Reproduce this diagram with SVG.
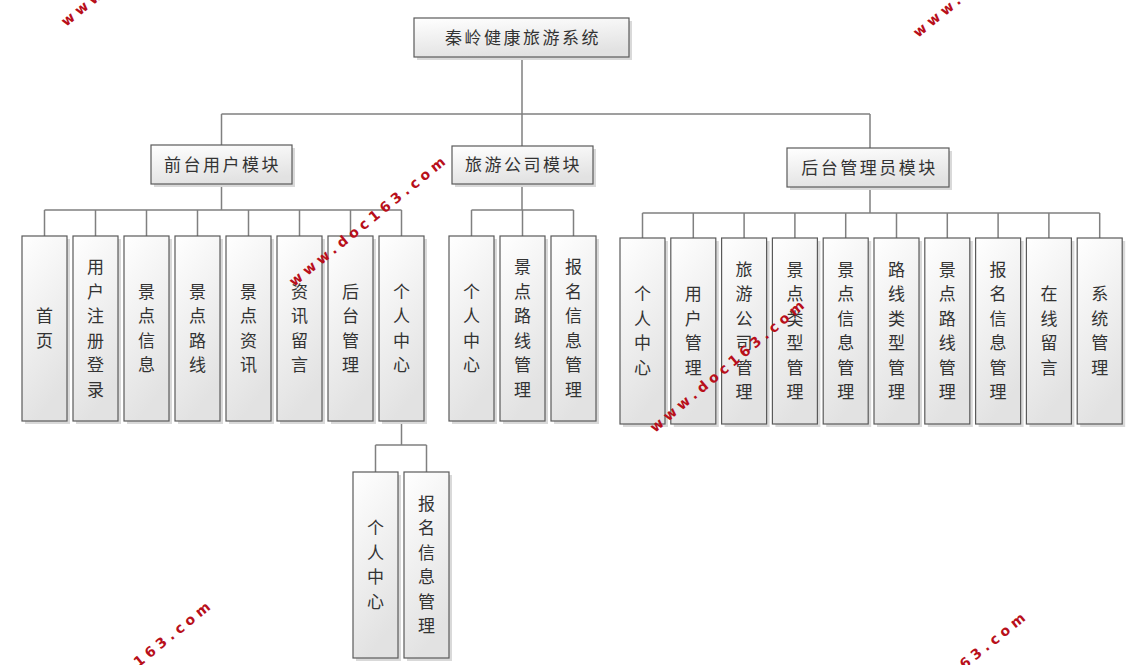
<svg xmlns="http://www.w3.org/2000/svg" width="1126" height="665" viewBox="0 0 1126 665">
<defs>
<linearGradient id="g" x1="0" y1="0" x2="0.3" y2="1">
<stop offset="0" stop-color="#ffffff"/>
<stop offset="1" stop-color="#e2e2e2"/>
</linearGradient>
<style>
.box{fill:url(#g);stroke:#5a5a5a;stroke-width:1.2}
.sh{fill:#d9d9d9}
.t{font-family:"Noto Sans CJK SC","Liberation Sans",sans-serif;font-size:17px;fill:#333;text-anchor:middle}
.h{letter-spacing:2.5px}
.c{fill:none;stroke:#808080;stroke-width:1.5}
.wm{font-family:"DejaVu Sans",sans-serif;font-weight:bold;font-size:14px;fill:#b80f1a}
</style>
</defs>
<rect width="1126" height="665" fill="#fff"/>
<g id="connectors" class="c">
<path d="M522 57V114M221.5 114H870M221.5 114V145M522 114V146M870 114V148"/>
<path d="M221.5 184V210M44.5 210H401.5M44.5 210V236M95.5 210V236M146.5 210V236M197.5 210V236M248.5 210V236M299.5 210V236M350.5 210V236M401.5 210V236"/>
<path d="M522 184V210M471.5 210H573.5M471.5 210V236M522.5 210V236M573.5 210V236"/>
<path d="M870 187V213M642.5 213H1099.7M642.5 213V238M693.3 213V238M744.1 213V238M794.9 213V238M845.7 213V238M896.5 213V238M947.3 213V238M998.1 213V238M1048.9 213V238M1099.7 213V238"/>
<path d="M401.5 421V445M375.5 445H426.5M375.5 445V472M426.5 445V472"/>
</g>
<g id="root"><rect class="sh" x="417" y="21" width="215" height="39"/><rect class="box" x="414" y="18" width="215" height="39"/><text class="t h" x="523" y="44">秦岭健康旅游系统</text></g>
<g id="m1"><rect class="sh" x="154" y="148" width="141" height="39"/><rect class="box" x="151" y="145" width="141" height="39"/><text class="t h" x="222.5" y="171">前台用户模块</text></g>
<g id="m2"><rect class="sh" x="455" y="149" width="141" height="38"/><rect class="box" x="452" y="146" width="141" height="38"/><text class="t h" x="523.5" y="171">旅游公司模块</text></g>
<g id="m3"><rect class="sh" x="790" y="151" width="162" height="39"/><rect class="box" x="787" y="148" width="162" height="39"/><text class="t h" x="869.5" y="174">后台管理员模块</text></g>

<g id="a1"><rect class="sh" x="25" y="239" width="45" height="185"/><rect class="box" x="22" y="236" width="45" height="185"/><text class="t"><tspan x="44.5" y="322">首</tspan><tspan x="44.5" y="347">页</tspan></text></g>
<g id="a2"><rect class="sh" x="76" y="239" width="45" height="185"/><rect class="box" x="73" y="236" width="45" height="185"/><text class="t"><tspan x="95.5" y="273">用</tspan><tspan x="95.5" y="298">户</tspan><tspan x="95.5" y="322">注</tspan><tspan x="95.5" y="347">册</tspan><tspan x="95.5" y="371">登</tspan><tspan x="95.5" y="396">录</tspan></text></g>
<g id="a3"><rect class="sh" x="127" y="239" width="45" height="185"/><rect class="box" x="124" y="236" width="45" height="185"/><text class="t"><tspan x="146.5" y="298">景</tspan><tspan x="146.5" y="322">点</tspan><tspan x="146.5" y="347">信</tspan><tspan x="146.5" y="371">息</tspan></text></g>
<g id="a4"><rect class="sh" x="178" y="239" width="45" height="185"/><rect class="box" x="175" y="236" width="45" height="185"/><text class="t"><tspan x="197.5" y="298">景</tspan><tspan x="197.5" y="322">点</tspan><tspan x="197.5" y="347">路</tspan><tspan x="197.5" y="371">线</tspan></text></g>
<g id="a5"><rect class="sh" x="229" y="239" width="45" height="185"/><rect class="box" x="226" y="236" width="45" height="185"/><text class="t"><tspan x="248.5" y="298">景</tspan><tspan x="248.5" y="322">点</tspan><tspan x="248.5" y="347">资</tspan><tspan x="248.5" y="371">讯</tspan></text></g>
<g id="a6"><rect class="sh" x="280" y="239" width="45" height="185"/><rect class="box" x="277" y="236" width="45" height="185"/><text class="t"><tspan x="299.5" y="298">资</tspan><tspan x="299.5" y="322">讯</tspan><tspan x="299.5" y="347">留</tspan><tspan x="299.5" y="371">言</tspan></text></g>
<g id="a7"><rect class="sh" x="331" y="239" width="45" height="185"/><rect class="box" x="328" y="236" width="45" height="185"/><text class="t"><tspan x="350.5" y="298">后</tspan><tspan x="350.5" y="322">台</tspan><tspan x="350.5" y="347">管</tspan><tspan x="350.5" y="371">理</tspan></text></g>
<g id="a8"><rect class="sh" x="382" y="239" width="45" height="185"/><rect class="box" x="379" y="236" width="45" height="185"/><text class="t"><tspan x="401.5" y="298">个</tspan><tspan x="401.5" y="322">人</tspan><tspan x="401.5" y="347">中</tspan><tspan x="401.5" y="371">心</tspan></text></g>

<g id="s1"><rect class="sh" x="356" y="475" width="45" height="186"/><rect class="box" x="353" y="472" width="45" height="186"/><text class="t"><tspan x="375.5" y="534">个</tspan><tspan x="375.5" y="559">人</tspan><tspan x="375.5" y="583">中</tspan><tspan x="375.5" y="608">心</tspan></text></g>
<g id="s2"><rect class="sh" x="407" y="475" width="45" height="186"/><rect class="box" x="404" y="472" width="45" height="186"/><text class="t"><tspan x="426.5" y="510">报</tspan><tspan x="426.5" y="534">名</tspan><tspan x="426.5" y="559">信</tspan><tspan x="426.5" y="583">息</tspan><tspan x="426.5" y="608">管</tspan><tspan x="426.5" y="632">理</tspan></text></g>

<g id="b1"><rect class="sh" x="452" y="239" width="45" height="185"/><rect class="box" x="449" y="236" width="45" height="185"/><text class="t"><tspan x="471.5" y="298">个</tspan><tspan x="471.5" y="322">人</tspan><tspan x="471.5" y="347">中</tspan><tspan x="471.5" y="371">心</tspan></text></g>
<g id="b2"><rect class="sh" x="503" y="239" width="45" height="185"/><rect class="box" x="500" y="236" width="45" height="185"/><text class="t"><tspan x="522.5" y="273">景</tspan><tspan x="522.5" y="298">点</tspan><tspan x="522.5" y="322">路</tspan><tspan x="522.5" y="347">线</tspan><tspan x="522.5" y="371">管</tspan><tspan x="522.5" y="396">理</tspan></text></g>
<g id="b3"><rect class="sh" x="554" y="239" width="45" height="185"/><rect class="box" x="551" y="236" width="45" height="185"/><text class="t"><tspan x="573.5" y="273">报</tspan><tspan x="573.5" y="298">名</tspan><tspan x="573.5" y="322">信</tspan><tspan x="573.5" y="347">息</tspan><tspan x="573.5" y="371">管</tspan><tspan x="573.5" y="396">理</tspan></text></g>

<g id="c1"><rect class="sh" x="623" y="241" width="45" height="186"/><rect class="box" x="620" y="238" width="45" height="186"/><text class="t"><tspan x="642.5" y="300">个</tspan><tspan x="642.5" y="325">人</tspan><tspan x="642.5" y="349">中</tspan><tspan x="642.5" y="374">心</tspan></text></g>
<g id="c2"><rect class="sh" x="673.8" y="241" width="45" height="186"/><rect class="box" x="670.8" y="238" width="45" height="186"/><text class="t"><tspan x="693.3" y="300">用</tspan><tspan x="693.3" y="325">户</tspan><tspan x="693.3" y="349">管</tspan><tspan x="693.3" y="374">理</tspan></text></g>
<g id="c3"><rect class="sh" x="724.6" y="241" width="45" height="186"/><rect class="box" x="721.6" y="238" width="45" height="186"/><text class="t"><tspan x="744.1" y="276">旅</tspan><tspan x="744.1" y="300">游</tspan><tspan x="744.1" y="325">公</tspan><tspan x="744.1" y="349">司</tspan><tspan x="744.1" y="374">管</tspan><tspan x="744.1" y="398">理</tspan></text></g>
<g id="c4"><rect class="sh" x="775.4" y="241" width="45" height="186"/><rect class="box" x="772.4" y="238" width="45" height="186"/><text class="t"><tspan x="794.9" y="276">景</tspan><tspan x="794.9" y="300">点</tspan><tspan x="794.9" y="325">类</tspan><tspan x="794.9" y="349">型</tspan><tspan x="794.9" y="374">管</tspan><tspan x="794.9" y="398">理</tspan></text></g>
<g id="c5"><rect class="sh" x="826.2" y="241" width="45" height="186"/><rect class="box" x="823.2" y="238" width="45" height="186"/><text class="t"><tspan x="845.7" y="276">景</tspan><tspan x="845.7" y="300">点</tspan><tspan x="845.7" y="325">信</tspan><tspan x="845.7" y="349">息</tspan><tspan x="845.7" y="374">管</tspan><tspan x="845.7" y="398">理</tspan></text></g>
<g id="c6"><rect class="sh" x="877" y="241" width="45" height="186"/><rect class="box" x="874" y="238" width="45" height="186"/><text class="t"><tspan x="896.5" y="276">路</tspan><tspan x="896.5" y="300">线</tspan><tspan x="896.5" y="325">类</tspan><tspan x="896.5" y="349">型</tspan><tspan x="896.5" y="374">管</tspan><tspan x="896.5" y="398">理</tspan></text></g>
<g id="c7"><rect class="sh" x="927.8" y="241" width="45" height="186"/><rect class="box" x="924.8" y="238" width="45" height="186"/><text class="t"><tspan x="947.3" y="276">景</tspan><tspan x="947.3" y="300">点</tspan><tspan x="947.3" y="325">路</tspan><tspan x="947.3" y="349">线</tspan><tspan x="947.3" y="374">管</tspan><tspan x="947.3" y="398">理</tspan></text></g>
<g id="c8"><rect class="sh" x="978.6" y="241" width="45" height="186"/><rect class="box" x="975.6" y="238" width="45" height="186"/><text class="t"><tspan x="998.1" y="276">报</tspan><tspan x="998.1" y="300">名</tspan><tspan x="998.1" y="325">信</tspan><tspan x="998.1" y="349">息</tspan><tspan x="998.1" y="374">管</tspan><tspan x="998.1" y="398">理</tspan></text></g>
<g id="c9"><rect class="sh" x="1029.4" y="241" width="45" height="186"/><rect class="box" x="1026.4" y="238" width="45" height="186"/><text class="t"><tspan x="1048.9" y="300">在</tspan><tspan x="1048.9" y="325">线</tspan><tspan x="1048.9" y="349">留</tspan><tspan x="1048.9" y="374">言</tspan></text></g>
<g id="c10"><rect class="sh" x="1080.2" y="241" width="45" height="186"/><rect class="box" x="1077.2" y="238" width="45" height="186"/><text class="t"><tspan x="1099.7" y="300">系</tspan><tspan x="1099.7" y="325">统</tspan><tspan x="1099.7" y="349">管</tspan><tspan x="1099.7" y="374">理</tspan></text></g>

<g id="watermarks" class="wm">
<text x="66" y="27" transform="rotate(-39 66 27)" textLength="196" lengthAdjust="spacing">www.doc163.com</text>
<text x="918" y="38" transform="rotate(-39 918 38)" textLength="196" lengthAdjust="spacing">www.doc163.com</text>
<text x="294" y="287" transform="rotate(-39 294 287)" textLength="196" lengthAdjust="spacing">www.doc163.com</text>
<text x="655" y="433" transform="rotate(-40 655 433)" textLength="196" lengthAdjust="spacing">www.doc163.com</text>
<text x="59" y="732" transform="rotate(-39 59 732)" textLength="196" lengthAdjust="spacing">www.doc163.com</text>
<text x="874" y="743" transform="rotate(-39 874 743)" textLength="196" lengthAdjust="spacing">www.doc163.com</text>
</g>
</svg>
